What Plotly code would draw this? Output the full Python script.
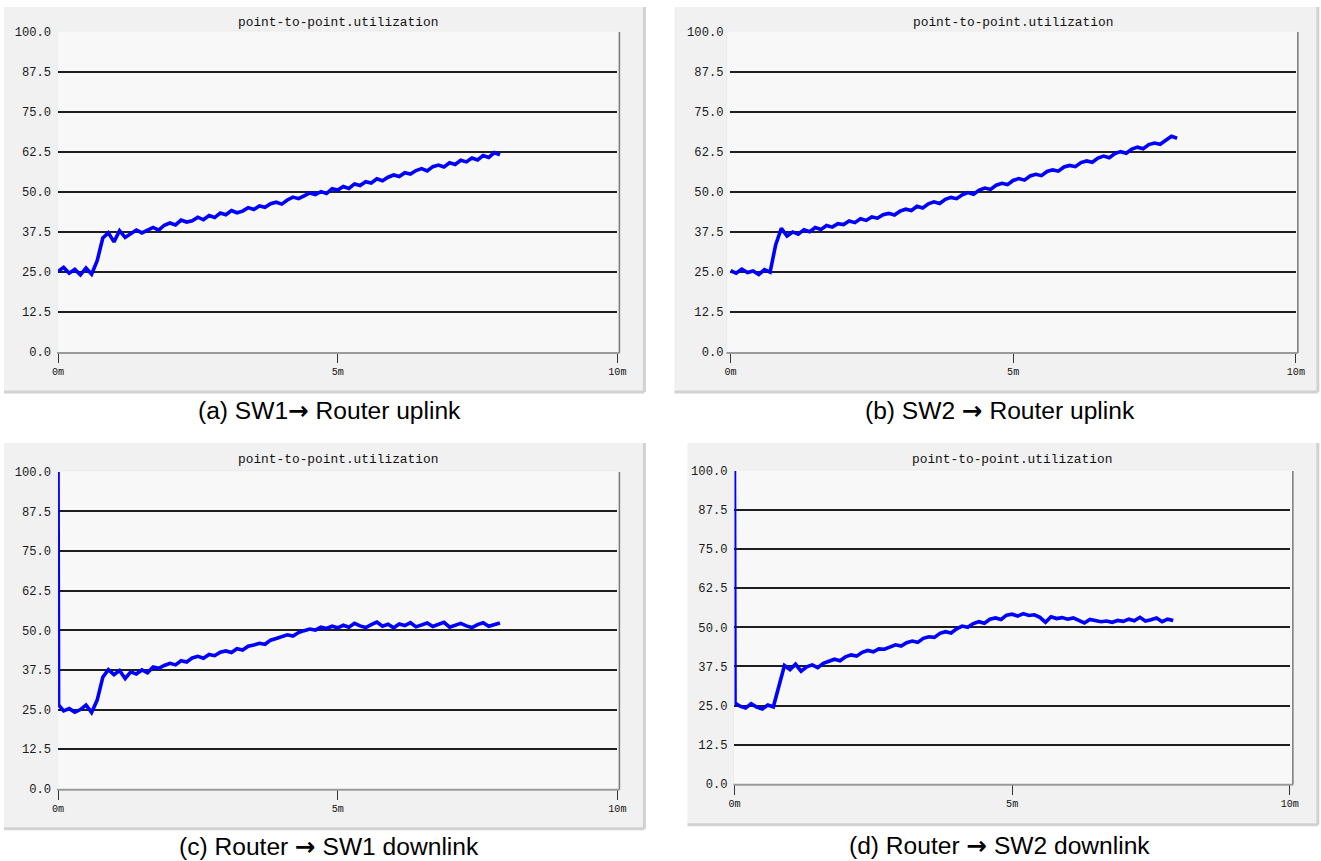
import plotly.graph_objects as go

W, H = 1321, 861          # figure size
# the captured picture of the page comes out slightly shrunk and shifted;
# these constants compensate so that layout positions land where intended
SX, OX = 0.988, 7.0
SY, OY = 0.984, 6.0

# ---------------- data (utilization %) ----------------
TIME_MIN = [round(0.1 * i, 1) for i in range(80)]          # sample times, minutes
DOWN_TIME_MIN = [0.0, 0.01] + TIME_MIN[1:]                  # downlinks start with a 100% spike

SW1_UPLINK = [
    25.2, 26.4, 24.6, 25.8, 24.1, 26.2, 24.3, 28.5, 35.6, 37.2,
    34.4, 37.9, 35.8, 37.0, 38.1, 37.2, 38.0, 38.9, 38.1, 39.6,
    40.3, 39.7, 41.2, 40.6, 41.0, 42.1, 41.3, 42.6, 42.0, 43.4,
    42.9, 44.2, 43.5, 44.0, 45.1, 44.5, 45.6, 45.2, 46.3, 46.8,
    46.2, 47.5, 48.4, 47.9, 48.8, 49.7, 49.2, 50.1, 49.5, 51.0,
    50.6, 51.7, 51.1, 52.5, 52.0, 53.2, 52.8, 54.1, 53.5, 54.6,
    55.3, 54.8, 56.0, 55.6, 56.7, 57.3, 56.6, 57.9, 58.4, 57.8,
    59.1, 58.6, 59.9, 59.4, 60.6, 60.0, 61.4, 60.8, 62.3, 61.6,
]

SW2_UPLINK = [
    25.4, 24.6, 25.9, 24.8, 25.3, 24.2, 25.7, 24.9, 33.5, 38.6,
    36.2, 37.5, 36.8, 38.2, 37.6, 38.9, 38.3, 39.5, 39.0, 40.1,
    39.8, 40.9, 40.4, 41.6, 41.1, 42.2, 41.8, 42.9, 43.3, 42.8,
    44.0, 44.6, 44.2, 45.5, 45.0, 46.3, 46.9, 46.4, 47.7, 48.3,
    47.9, 49.1, 49.8, 49.3, 50.6, 51.2, 50.8, 52.1, 52.7, 52.3,
    53.6, 54.2, 53.7, 55.0, 55.5, 55.1, 56.4, 56.9, 56.5, 57.8,
    58.3, 57.9, 59.2, 59.7, 59.3, 60.6, 61.2, 60.7, 62.0, 62.6,
    62.1, 63.4, 64.0, 63.5, 64.8, 65.3, 64.9, 66.2, 67.4, 66.8,
]

SW1_DOWNLINK = [
    100.0, 26.5,
    24.6, 25.3, 24.2, 25.0, 26.4, 24.1, 28.0, 35.2, 37.6,
    36.0, 37.3, 34.8, 36.9, 36.2, 37.5, 36.6, 38.4, 38.0, 38.9,
    39.6, 39.1, 40.4, 40.0, 41.3, 41.8, 41.2, 42.4, 42.0, 43.1,
    43.5, 43.0, 44.2, 43.8, 45.0, 45.4, 45.9, 45.6, 46.9, 47.4,
    47.9, 48.6, 48.2, 49.3, 49.9, 50.4, 50.1, 51.0, 50.6, 51.3,
    50.8, 51.6, 51.0, 52.2, 51.4, 50.9, 51.8, 52.6, 51.3, 51.9,
    50.8, 52.0, 51.5, 52.4, 51.1, 51.8, 52.3, 51.2, 51.9, 52.5,
    51.0, 51.7, 52.2, 51.4, 50.9, 51.8, 52.4, 51.3, 51.9, 52.3,
]

SW2_DOWNLINK = [
    100.0, 25.8,
    24.8, 24.2, 25.6, 24.5, 23.9, 25.2, 24.6, 31.5, 37.8,
    36.5, 38.2, 36.0, 37.4, 38.0, 37.1, 38.5, 39.2, 39.8, 39.3,
    40.6, 41.2, 40.8, 42.0, 42.6, 42.2, 43.1, 43.0, 43.8, 44.4,
    44.0, 45.1, 45.6, 45.2, 46.5, 47.0, 46.8, 48.1, 48.6, 48.2,
    49.5, 50.4, 50.0, 51.2, 51.8, 51.3, 52.6, 53.0, 52.5, 53.9,
    54.2, 53.6, 54.4, 53.8, 54.0, 53.2, 51.6, 53.4, 52.8, 53.1,
    52.6, 53.0, 52.2, 51.4, 52.5, 52.1, 51.8, 52.0, 51.6, 52.2,
    51.9, 52.6, 52.1, 53.2, 52.0, 52.4, 53.0, 51.8, 52.6, 52.2,
]

Y_TICKS = [0.0, 12.5, 25.0, 37.5, 50.0, 62.5, 75.0, 87.5, 100.0]
Y_TICK_TEXT = ["0.0", "12.5", "25.0", "37.5", "50.0", "62.5", "75.0", "87.5", "100.0"]
Y_GRID = [12.5, 25.0, 37.5, 50.0, 62.5, 75.0, 87.5]
X_TICKS = [0, 5, 10]
X_TICK_TEXT = ["0m", "5m", "10m"]
PLOT_TITLE = "point-to-point.utilization"
ARROW = "<span style='font-family:DejaVu Sans'><b>\u2192</b></span>"
CAPTIONS = [
    "(a) SW1" + ARROW + " Router uplink",
    "(b) SW2 " + ARROW + " Router uplink",
    "(c) Router " + ARROW + " SW1 downlink",
    "(d) Router " + ARROW + " SW2 downlink",
]

# ---------------- layout geometry (pixels in the target picture) ----------------
def px(x):
    return ((x - OX) / SX) / W

def py(y):
    return 1 - ((y - OY) / SY) / H

FS = 1 / SX  # font size compensation

# x0 (0m), x1 (10m), y bottom (0), y top (100), frame left/right, box, title y, caption (x, y)
PANELS = [
    dict(x0=59, x1=618, yb=352, yt=32, fl=58, fr=620, box=(5, 7, 645, 392), ty=23, cap=(330, 411)),
    dict(x0=731, x1=1296, yb=352, yt=32, fl=727, fr=1298, box=(675, 7, 1318, 392), ty=23, cap=(1000, 411)),
    dict(x0=59, x1=618, yb=789, yt=472, fl=58, fr=620, box=(5, 443, 645, 829), ty=460, cap=(330, 847)),
    dict(x0=735, x1=1290, yb=784, yt=471, fl=734, fr=1293, box=(688, 443, 1318, 825), ty=460, cap=(1000, 846)),
]

SERIES = [
    (TIME_MIN, SW1_UPLINK),
    (TIME_MIN, SW2_UPLINK),
    (DOWN_TIME_MIN, SW1_DOWNLINK),
    (DOWN_TIME_MIN, SW2_DOWNLINK),
]

MONO = "Liberation Mono"
fig = go.Figure()
shapes = []
annotations = []
layout_axes = {}

for i, (p, (tx, vy)) in enumerate(zip(PANELS, SERIES)):
    n = "" if i == 0 else str(i + 1)
    fig.add_trace(go.Scatter(
        x=tx, y=vy, mode="lines",
        line=dict(color="#0000ff", width=3.6),
        xaxis="x" + n, yaxis="y" + n, showlegend=False, hoverinfo="skip",
    ))
    layout_axes["xaxis" + n] = dict(
        domain=[px(p["x0"]), px(p["x1"])], range=[0, 10], anchor="y" + n,
        tickvals=X_TICKS, ticktext=X_TICK_TEXT, ticks="outside", ticklen=10,
        tickcolor="#333333", tickwidth=1, showgrid=False, zeroline=False, showline=False,
        tickfont=dict(family=MONO, size=10 * FS, color="#111111"), fixedrange=True,
    )
    layout_axes["yaxis" + n] = dict(
        domain=[py(p["yb"]), py(p["yt"])], range=[0, 100], anchor="x" + n,
        tickvals=Y_TICKS, ticktext=Y_TICK_TEXT, ticks="", showgrid=False,
        zeroline=False, showline=False, ticklabelstandoff=6,
        minor=dict(tickvals=Y_GRID, showgrid=True, gridcolor="#1e1e1e", gridwidth=1.6, ticks=""),
        tickfont=dict(family=MONO, size=12 * FS, color="#1a1a1a"), fixedrange=True,
    )
    bx0, by0, bx1, by1 = p["box"]
    # window box
    shapes.append(dict(type="rect", xref="paper", yref="paper", layer="below",
                       x0=px(bx0), x1=px(bx1), y0=py(by1), y1=py(by0),
                       fillcolor="#f1f1f1", line=dict(width=0)))
    shapes.append(dict(type="line", xref="paper", yref="paper", layer="below",
                       x0=px(bx0), x1=px(bx1), y0=py(by1), y1=py(by1),
                       line=dict(color="#d2d2d2", width=3)))
    shapes.append(dict(type="line", xref="paper", yref="paper", layer="below",
                       x0=px(bx1), x1=px(bx1), y0=py(by1), y1=py(by0),
                       line=dict(color="#d2d2d2", width=3)))
    # plot area
    shapes.append(dict(type="rect", xref="paper", yref="paper", layer="below",
                       x0=px(p["fl"]), x1=px(p["fr"]), y0=py(p["yb"] + 1), y1=py(p["yt"] - 1),
                       fillcolor="#f8f8f8", line=dict(color="#ececec", width=1)))
    shapes.append(dict(type="line", xref="paper", yref="paper", layer="above",
                       x0=px(p["fr"]), x1=px(p["fr"]), y0=py(p["yb"] + 1), y1=py(p["yt"]),
                       line=dict(color="#7a7a7a", width=1.5)))
    shapes.append(dict(type="line", xref="paper", yref="paper", layer="above",
                       x0=px(p["fl"]), x1=px(p["fr"]), y0=py(p["yb"] + 1), y1=py(p["yb"] + 1),
                       line=dict(color="#9a9a9a", width=2)))
    annotations.append(dict(xref="paper", yref="paper", x=px((p["x0"] + p["x1"]) / 2), y=py(p["ty"]),
                            text=PLOT_TITLE, showarrow=False, xanchor="center", yanchor="middle",
                            font=dict(family=MONO, size=12.7 * FS, color="#111111")))
    annotations.append(dict(xref="paper", yref="paper", x=px(p["cap"][0]), y=py(p["cap"][1]),
                            text=CAPTIONS[i], showarrow=False, xanchor="center", yanchor="middle",
                            font=dict(family="Liberation Sans, Arial, sans-serif", size=24.3 * FS,
                                      color="#000000")))

fig.update_layout(
    width=W, height=H, margin=dict(l=0, r=0, t=0, b=0),
    paper_bgcolor="#ffffff", plot_bgcolor="rgba(0,0,0,0)",
    shapes=shapes, annotations=annotations, showlegend=False,
    **layout_axes,
)

fig.write_html("out.html", config={"displayModeBar": False})
